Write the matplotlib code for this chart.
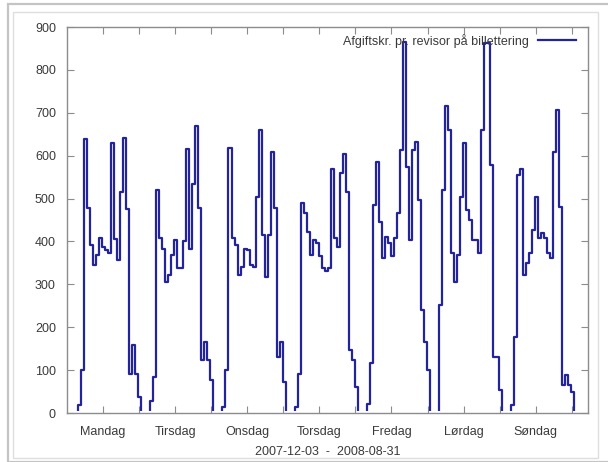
import numpy as np
import matplotlib
matplotlib.use('Agg')
import matplotlib.pyplot as plt
from matplotlib.patches import Rectangle
from matplotlib.transforms import Bbox, TransformedBbox

plt.rcParams['font.family'] = ['Liberation Sans', 'DejaVu Sans']

#-------------------------------------------------------------------------------
# Data: fee per controller, hourly (hour 0..23) for each weekday
#-------------------------------------------------------------------------------
days = ['Mandag', 'Tirsdag', 'Onsdag', 'Torsdag', 'Fredag', 'Lørdag', 'Søndag']

mandag  = [0, 0, 0, 19, 100, 640, 477, 392, 345, 368, 407, 386, 380, 374, 629, 405, 357, 516, 642, 475, 92, 158, 92, 38]
tirsdag = [0, 0, 0, 29, 85, 520, 407, 382, 306, 322, 368, 403, 337, 337, 400, 615, 382, 535, 669, 477, 124, 166, 124, 77]
onsdag  = [0, 0, 0, 15, 100, 617, 407, 392, 322, 341, 382, 380, 345, 341, 504, 661, 415, 318, 415, 609, 477, 131, 166, 73]
torsdag = [0, 0, 0, 15, 92, 490, 466, 423, 368, 403, 396, 365, 337, 330, 337, 568, 407, 388, 560, 605, 516, 147, 124, 61]
fredag  = [0, 0, 0, 20, 116, 485, 586, 446, 361, 411, 396, 365, 407, 466, 613, 866, 574, 403, 613, 633, 497, 240, 166, 100]
loerdag = [0, 0, 0, 252, 520, 716, 660, 372, 306, 368, 504, 629, 473, 449, 403, 403, 372, 660, 862, 862, 578, 131, 131, 54]
soendag = [0, 0, 0, 19, 178, 555, 568, 322, 349, 372, 427, 504, 407, 419, 407, 372, 361, 609, 707, 481, 65, 89, 65, 50]

series_label = 'Afgiftskr. pr. revisor på billettering'
period_label = '2007-12-03  -  2008-08-31'

#-------------------------------------------------------------------------------
# Settings
#-------------------------------------------------------------------------------
fig_file   = 'out.png'
line_color = '#23239c'
frame_col  = '#8c8c8c'
text_col   = '#3a3a3a'
x_start    = -0.75          # axis starts slightly before hour 0
x_span     = 173.4          # hours covered by the x-axis

values = np.array(mandag + tirsdag + onsdag + torsdag + fredag + loerdag + soendag + [0])
hours  = np.arange(len(values))

#-------------------------------------------------------------------------------
# Create figure
#-------------------------------------------------------------------------------
fig = plt.figure(figsize=(6.08, 4.62), dpi=100)
ax  = fig.add_axes([67/608, 1-413/462, 521/608, 386/462])

# screenshot style frames around the image
fig.add_artist(Rectangle((8/608, 0.0), 1.2, 1-4/462, transform=fig.transFigure,
                         fill=False, edgecolor='#c4c4c4', lw=1.6))
fig.add_artist(Rectangle((13/608, 4/462), (598-13)/608, (450-4)/462, transform=fig.transFigure,
                         fill=False, edgecolor='#dedede', lw=1.0))

line, = ax.step(hours, values, where='post', color=line_color, lw=1.6, label=series_label)
# zero segments sit under the gray border, like in gnuplot
line.set_clip_box(TransformedBbox(Bbox([[0, 0.004], [1, 1]]), ax.transAxes))

ax.set_xlim(x_start, x_start + x_span)
ax.set_ylim(0, 900)
ax.set_yticks(np.arange(0, 901, 100))

# ticks every 12 hours, day names on every other tick (midday)
xt = x_start + 12 * np.arange(1, 15)
xl = ['' for _ in xt]
for i, d in enumerate(days):
    xl[2*i] = d
ax.set_xticks(xt)
ax.set_xticklabels(xl)

ax.tick_params(axis='both', direction='in', length=5, width=0.8, color=frame_col,
               top=True, right=True, labelsize=9, labelcolor=text_col)
ax.tick_params(axis='y', pad=8)
ax.tick_params(axis='x', pad=9)
for sp in ax.spines.values():
    sp.set_color(frame_col)
    sp.set_linewidth(1.0)

ax.set_xlabel(period_label, fontsize=9, color=text_col, labelpad=6)

ax.legend(loc='upper right', bbox_to_anchor=(0.99, 1.0), frameon=False, markerfirst=False,
          fontsize=9, handlelength=3.0, handletextpad=0.8, borderaxespad=0.3, borderpad=0.25,
          labelcolor=text_col)

fig.savefig(fig_file, dpi=100, facecolor='white')
plt.close()
